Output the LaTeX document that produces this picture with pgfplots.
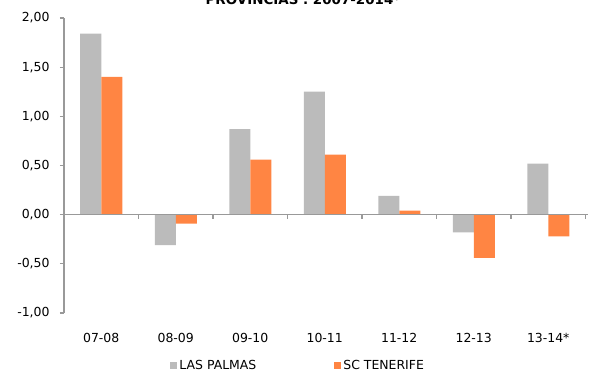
\documentclass[border=0pt]{standalone}
\usepackage{fontspec}
\setmainfont{DejaVu Sans}
\usepackage{pgfplots}
\pgfplotsset{compat=1.18}
\definecolor{lpgray}{HTML}{BBBBBB}
\definecolor{sctorange}{HTML}{FF8543}
\definecolor{axisgray}{HTML}{999999}
\pgfplotsset{sqlegend/.style={legend image code/.code={\fill[##1] (0bp,-3.5bp) rectangle (7bp,3.5bp);}}}
\begin{document}
\begin{tikzpicture}
\useasboundingbox (0bp,0bp) rectangle (596bp,374bp);
\node[anchor=base,font=\fontsize{13.5}{15}\selectfont\bfseries] at (303bp,369bp) {PROVINCIAS . 2007-2014*};
\begin{axis}[
  at={(64bp,61bp)}, anchor=south west,
  scale only axis, width=521.5bp, height=295bp,
  font=\fontsize{12.5}{14}\selectfont,
  xmin=-0.5, xmax=6.5, ymin=-1, ymax=2,
  ytick={-1,-0.5,...,2},
  xtick={0,1,2,3,4,5,6},
  xticklabels={07-08,08-09,09-10,10-11,11-12,12-13,13-14*},
  x axis line style={draw=none},
  axis y line*=left, axis x line*=bottom,
  y axis line style={axisgray, line width=1.5pt},
  major x tick style={draw=none},
  ytick style={axisgray, line width=1.2pt},
  tick align=outside, major tick length=4bp,
  xticklabel style={yshift=-13bp},
  yticklabel style={xshift=-7bp},
  /pgf/number format/.cd, fixed, fixed zerofill, precision=2, use comma, assume math mode=true,
  /pgfplots/.cd,
  ybar=0pt, bar width=21bp,
  clip=false,
  legend columns=2,
  legend style={at={(0.198,-0.178)}, anchor=west, draw=none, fill=none,
    font=\fontsize{12.5}{14}\selectfont,
    /tikz/every even column/.append style={column sep=76bp}},
]
\addplot[fill=lpgray, draw=none, sqlegend] coordinates {
 (0,1.84) (1,-0.31) (2,0.87) (3,1.25) (4,0.19) (5,-0.18) (6,0.52)};
\addplot[fill=sctorange, draw=none, sqlegend] coordinates {
 (0,1.40) (1,-0.09) (2,0.56) (3,0.61) (4,0.04) (5,-0.44) (6,-0.22)};
\legend{LAS PALMAS, SC TENERIFE}
\draw[axisgray, line width=1.5pt] (axis cs:-0.5,0) -- (axis cs:6.53,0);
\pgfplotsinvokeforeach{0.5,1.5,2.5,3.5,4.5,5.5,6.5}{
  \draw[axisgray, line width=1.2pt] (axis cs:#1,0) -- ++(0bp,-4bp);}
\end{axis}
\end{tikzpicture}
\end{document}
